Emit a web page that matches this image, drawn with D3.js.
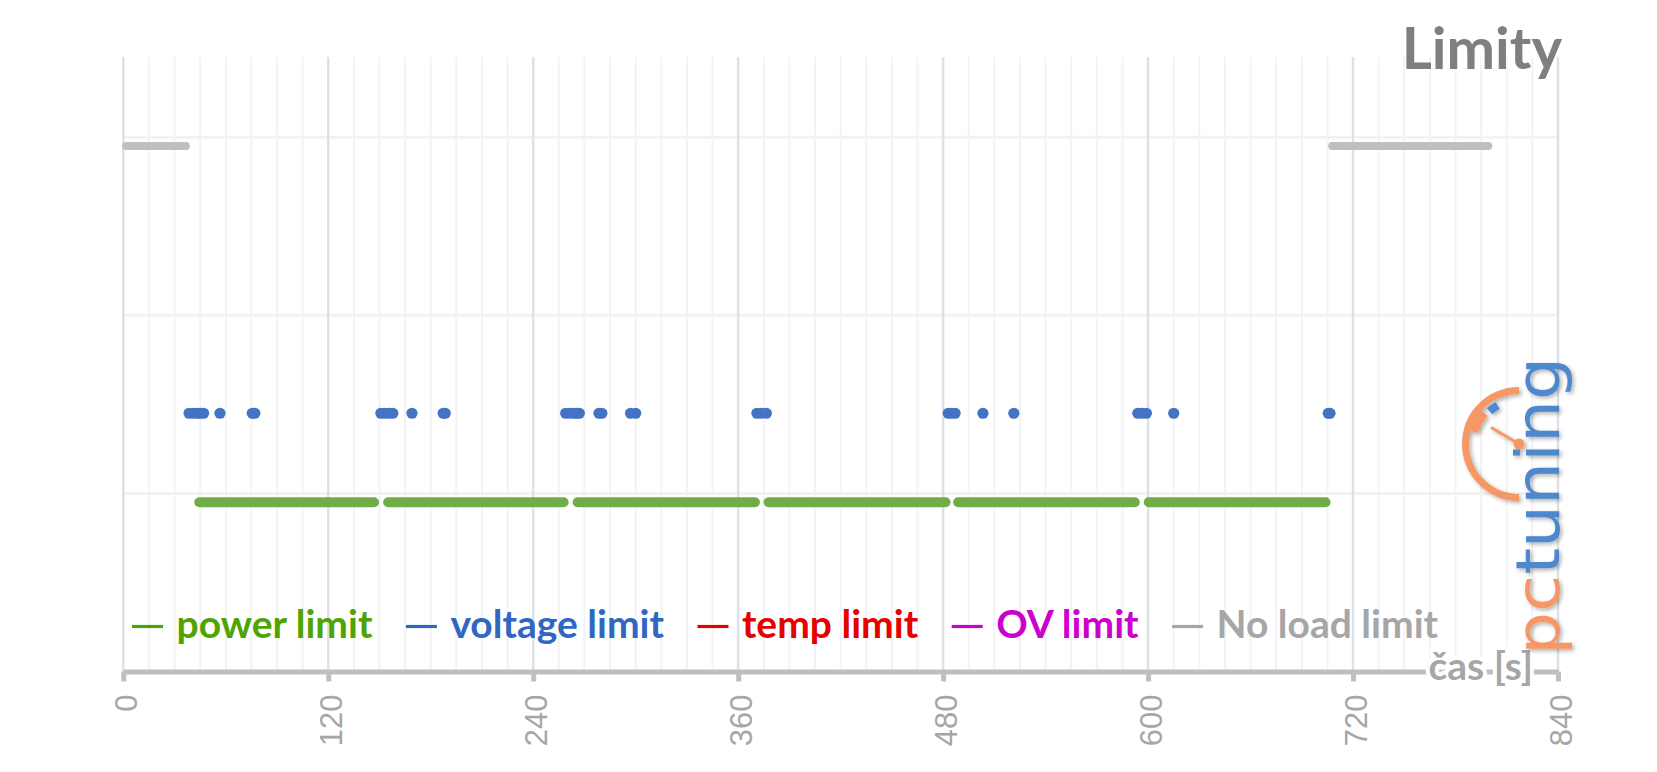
<!DOCTYPE html>
<html><head><meta charset="utf-8">
<script src="https://cdn.jsdelivr.net/npm/d3@7"></script>
<style>html,body{margin:0;padding:0;background:#fff;overflow:hidden}</style>
</head><body>
<svg id="c" width="1657" height="772"></svg>
<script>
// ---------------- data ----------------
const xTicks = [0, 120, 240, 360, 480, 600, 720, 840];
const yGridValues = [1, 2, 3];
const legendLabels = ["power limit", "voltage limit", "temp limit", "OV limit", "No load limit"];
const legendColors = ["#4EA400", "#2F67C2", "#E60000", "#CC00CC", "#A6A6A6"];
const powerLimitLevel = 0.95;
const voltageLimitLevel = 1.45;
const noLoadLimitLevel = 2.95;
// time ranges [start s, end s] where the limit is active
const powerLimitRuns = [[44.5, 146.8], [155.1, 257.8], [266, 369.8], [377.8, 481.4], [488.8, 592.2], [600.4, 703.9]];
const noLoadLimitRuns = [[1.6, 36.6], [707.8, 799.2]];
// individual samples where voltage limit is active
const voltageLimitTimes = [38.5, 41, 43.5, 45, 47, 56.6, 75.5, 77,
  150.8, 153, 155.5, 157.8, 169, 187.3, 188.5,
  259, 261.5, 264, 265.5, 267, 278.5, 280.2, 297, 300,
  371, 373.5, 376.5,
  483, 485, 487, 503.3, 521.4,
  594, 596.5, 599, 615,
  705.5, 706.5];

// ---------------- chart ----------------
const svg = d3.select('#c');
const x = d3.scaleLinear().domain([0, 840]).range([123.3, 1558]);
const y = d3.scaleLinear().domain([0, 3.45]).range([671.5, 57]);

const defs = svg.append('defs');
const f = defs.append('filter').attr('id', 'sh').attr('x', '-20%').attr('y', '-20%').attr('width', '140%').attr('height', '140%');
f.append('feDropShadow').attr('dx', 2).attr('dy', 2).attr('stdDeviation', 2).attr('flood-color', '#000').attr('flood-opacity', 0.35);

// grid
const minorTicks = d3.range(0, 841, 15).filter(v => v % 120 !== 0);
svg.append('g').selectAll('line').data(minorTicks).join('line')
  .attr('x1', d => x(d)).attr('x2', d => x(d))
  .attr('y1', y(3.45)).attr('y2', y(0))
  .attr('stroke', '#F2F3F6').attr('stroke-width', 2);
svg.append('g').selectAll('line').data(yGridValues).join('line')
  .attr('x1', x(0)).attr('x2', x(840))
  .attr('y1', d => y(d)).attr('y2', d => y(d))
  .attr('stroke', '#F2F2F2').attr('stroke-width', 3);
svg.append('g').selectAll('line').data(xTicks).join('line')
  .attr('x1', d => x(d)).attr('x2', d => x(d))
  .attr('y1', y(3.45)).attr('y2', y(0))
  .attr('stroke', '#DDE1EA').attr('stroke-width', 2.5);

// series
const line = d3.line().x(d => x(d[0])).y(d => y(d[1]));
svg.append('g').selectAll('path').data(noLoadLimitRuns).join('path')
  .attr('d', r => line([[r[0], noLoadLimitLevel], [r[1], noLoadLimitLevel]]))
  .attr('stroke', '#BFBFBF').attr('stroke-width', 8).attr('stroke-linecap', 'round').attr('fill', 'none');
svg.append('g').selectAll('path').data(powerLimitRuns).join('path')
  .attr('d', r => line([[r[0], powerLimitLevel], [r[1], powerLimitLevel]]))
  .attr('stroke', '#70AD47').attr('stroke-width', 10).attr('stroke-linecap', 'round').attr('fill', 'none');
svg.append('g').selectAll('circle').data(voltageLimitTimes).join('circle')
  .attr('cx', d => x(d)).attr('cy', y(voltageLimitLevel)).attr('r', 5.6)
  .attr('fill', '#4472C4');

// x axis
const ax = svg.append('g').attr('transform', `translate(0,${y(0)})`)
  .call(d3.axisBottom(x).tickValues(xTicks).tickSize(10).tickSizeOuter(0).tickFormat(d3.format('d')));
ax.select('.domain').attr('stroke', '#BFBFBF').attr('stroke-width', 5);
ax.selectAll('.tick line').attr('stroke', '#BFBFBF').attr('stroke-width', 5);
ax.selectAll('.tick text')
  .attr('transform', 'rotate(-90)')
  .attr('x', -23).attr('y', 0).attr('dy', '0.42em')
  .attr('text-anchor', 'end')
  .attr('font-family', '"Liberation Sans", Arial, sans-serif')
  .attr('font-size', 31).attr('fill', '#A6A6A6');

// axis title with white halo
svg.append('text').attr('x', 1533).attr('y', 680).attr('text-anchor', 'end')
  .attr('font-family', 'Lato, sans-serif').attr('font-weight', 700).attr('font-size', 39)
  .attr('fill', '#A6A6A6').attr('stroke', '#fff').attr('stroke-width', 8)
  .attr('paint-order', 'stroke').attr('stroke-linejoin', 'round')
  .text('čas [s]');

// title
svg.append('text').attr('x', 1562).attr('y', 68.5).attr('text-anchor', 'end')
  .attr('font-family', 'Lato, sans-serif').attr('font-weight', 700).attr('font-size', 58)
  .attr('fill', '#7F7F7F').text('Limity');

// legend
const lg = svg.append('g');
let cx = 132;
legendLabels.forEach((lab, i) => {
  lg.append('line').attr('x1', cx).attr('x2', cx + 31).attr('y1', 626.5).attr('y2', 626.5)
    .attr('stroke', legendColors[i]).attr('stroke-width', 3.2);
  const t = lg.append('text').attr('x', cx + 44.5).attr('y', 638)
    .attr('font-family', 'Lato, sans-serif').attr('font-weight', 700).attr('font-size', 39)
    .attr('fill', legendColors[i]).text(lab);
  cx = cx + 44.5 + t.node().getComputedTextLength() + 33.5;
});

// logo (pctuning watermark)
const logo = svg.append('g').attr('opacity', 0.9).attr('filter', 'url(#sh)');
const lc = [1519, 444];
const deg = Math.PI / 180;
logo.append('path').attr('transform', `translate(${lc})`)
  .attr('d', d3.arc()({innerRadius: 50, outerRadius: 57, startAngle: 180 * deg, endAngle: 360 * deg}))
  .attr('fill', '#F58D57');
logo.append('path').attr('transform', `translate(${lc})`)
  .attr('d', d3.arc()({innerRadius: 42, outerRadius: 57, startAngle: 285 * deg, endAngle: 312 * deg}))
  .attr('fill', '#F58D57');
logo.append('path').attr('transform', `translate(${lc})`)
  .attr('d', d3.arc()({innerRadius: 40, outerRadius: 48, startAngle: 318 * deg, endAngle: 331 * deg}))
  .attr('fill', '#3A7BC8');
logo.append('line').attr('x1', lc[0]).attr('y1', lc[1]).attr('x2', 1492).attr('y2', 428)
  .attr('stroke', '#F58D57').attr('stroke-width', 3).attr('stroke-linecap', 'round');
logo.append('circle').attr('cx', lc[0]).attr('cy', lc[1]).attr('r', 5.5).attr('fill', '#F58D57');
const lt = logo.append('text').attr('transform', 'translate(1559,655) rotate(-90)')
  .attr('font-family', '"DejaVu Sans", sans-serif').attr('font-size', 60)
  .attr('textLength', 298).attr('lengthAdjust', 'spacingAndGlyphs');
lt.append('tspan').attr('fill', '#F58D57').text('pc');
lt.append('tspan').attr('fill', '#3A7BC8').text('tuning');
</script>
</body></html>
